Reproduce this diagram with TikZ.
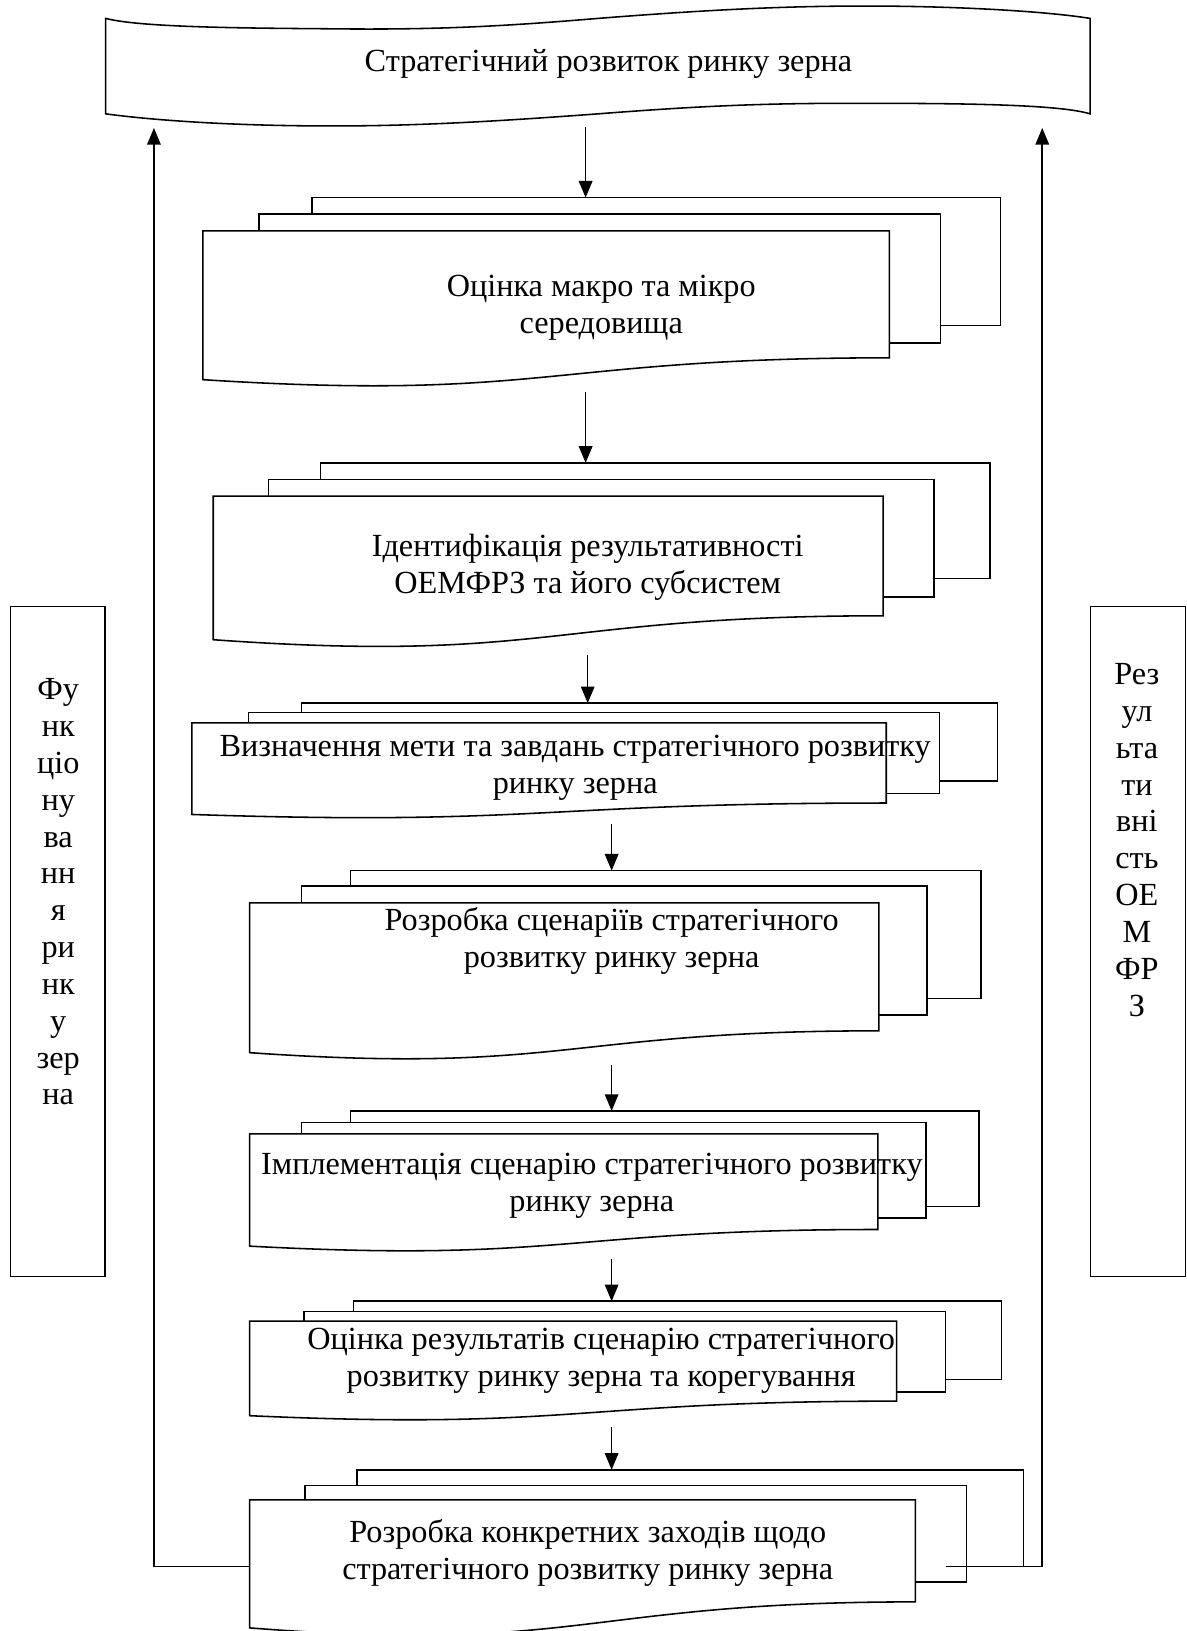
\documentclass[tikz,border=0pt]{standalone}
\usepackage{fontspec}
\setmainfont{Liberation Serif}
\usetikzlibrary{arrows.meta}
% layer (back or middle sheet): #1 left x, #2 top y, #3 right x, #4 bottom y, #5 y where left edge ends, #6 x where bottom edge ends
\newcommand{\layershape}[6]{\draw[shapeline] (#1,#5) -- (#1,#2) -- (#3,#2) -- (#3,#4) -- (#6,#4);}
% front sheet: #1 left, #2 top, #3 right, #4 right-bottom y, #5 left-bottom y
\newcommand{\frontshape}[5]{\draw[shapeline,fill=white] (#1,#2) -- (#3,#2) -- (#3,#4) .. controls ({(#1+#3)/2},#4) and ({(#1+#3)/2},{2*#5-#4}) .. (#1,#5) -- cycle;}
\begin{document}
\begin{tikzpicture}[x=1pt,y=-1pt,
  shapeline/.style={line width=1.5pt,line join=miter},
  arr/.style={line width=1.5pt,-{Triangle[length=16pt,width=13pt]}},
  txt/.style={font=\fontsize{31}{35.4}\selectfont,align=center,inner sep=0pt},
  sidebox/.style={draw,line width=1.5pt,minimum width=91pt,minimum height=644pt,inner sep=0pt}]
\fill[white] (0,0) rectangle (1141,1568);
\useasboundingbox (0,0) rectangle (1141,1568);

% top banner (punched tape)
\begin{scope}[shift={(101.6,5.8)},xscale=9.464,yscale=1.153]
\draw[shapeline,fill=white] (0,10.32)
  .. controls (3.80,18.47) and (15.79,18.43) .. (24.86,19.13)
  .. controls (34.58,19.63) and (41.25,16.34) .. (50,10.32)
  .. controls (60.09,3.84) and (68.15,0) .. (77.15,0)
  .. controls (86.81,0) and (95.78,4.68) .. (100,10.32)
  -- (100,89.91)
  .. controls (96.53,81.06) and (84.31,81.11) .. (75.28,81.11)
  .. controls (65.56,81.11) and (58.75,84.35) .. (50,89.91)
  .. controls (40.07,95.93) and (31.88,100) .. (23.06,100)
  .. controls (13.19,100) and (5.14,95.56) .. (0,89.91) -- cycle;
\end{scope}
\node[txt,anchor=base] (banner) at (585,69) {Стратегічний розвиток ринку зерна};

% side boxes
\node[sidebox] (leftbox) at (55.5,905) {};
\node[sidebox] (rightbox) at (1094,905) {};
\node[txt] (lefttext) at (56,857.5) {Фу\\нк\\ціо\\ну\\ва\\нн\\я\\ри\\нк\\у\\зер\\на};
\node[txt] (righttext) at (1093,807.5) {Рез\\ул\\ьта\\ти\\вні\\сть\\ОЕ\\М\\ФР\\З};

% document 1
\layershape{300}{190}{962}{313}{206}{904}
\layershape{249}{206}{904}{330}{222}{855}
\frontshape{195}{222}{855}{344}{365}
\node[txt] (d1) at (578,296) {Оцінка макро та мікро\\середовища};

% document 2
\layershape{308}{445}{952}{556}{461}{898}
\layershape{258}{461}{898}{574}{477}{849}
\frontshape{205}{477}{849}{592}{615}
\node[txt] (d2) at (565,545) {Ідентифікація результативності\\ОЕМФРЗ та його субсистем};

% document 3
\layershape{290}{676}{959}{751}{685}{903}
\layershape{239}{685}{903}{763}{695}{852}
\frontshape{184.5}{695}{852}{772}{783}
\node[txt] (d3) at (553,738) {Визначення мети та завдань стратегічного розвитку\\ринку зерна};

% document 4
\layershape{337}{837}{943}{960}{852}{891}
\layershape{290}{852}{891}{976}{868}{845}
\frontshape{240}{868}{845}{991}{1012}
\node[txt] (d4) at (588,904.5) {Розробка сценаріїв стратегічного\\розвитку ринку зерна};

% document 5
\layershape{337}{1068}{941}{1160}{1079}{890}
\layershape{290}{1079}{890}{1171}{1090}{844}
\frontshape{240}{1090}{844}{1182}{1198}
\node[txt] (d5) at (569,1140) {Імплементація сценарію стратегічного розвитку\\ринку зерна};

% document 6
\layershape{340}{1251}{963}{1326}{1261}{909}
\layershape{292}{1261}{909}{1338}{1270}{862}
\frontshape{240}{1270}{862}{1347}{1361}
\node[txt] (d6) at (578,1308.5) {Оцінка результатів сценарію стратегічного\\розвитку ринку зерна та корегування};

% document 7
\layershape{343}{1413}{984}{1506}{1428}{929}
\layershape{293}{1428}{929}{1521}{1442}{880}
\frontshape{240}{1442}{880}{1540}{1565}
\node[txt] (d7) at (565,1493) {Розробка конкретних заходів щодо\\стратегічного розвитку ринку зерна};

% connector points
\coordinate (b-out) at (563,122);
\coordinate (d1-in) at (563,190);
\coordinate (d1-out) at (563,377);
\coordinate (d2-in) at (563,445);
\coordinate (d2-out) at (565,630);
\coordinate (d3-in) at (565,676);
\coordinate (d3-out) at (588,792);
\coordinate (d4-in) at (588,837);
\coordinate (d4-out) at (588,1024);
\coordinate (d5-in) at (588,1068);
\coordinate (d5-out) at (588,1210);
\coordinate (d6-in) at (588,1251);
\coordinate (d6-out) at (588,1372);
\coordinate (d7-in) at (588,1413);
\coordinate (d7-left) at (240,1506);
\coordinate (d7-right) at (909,1506);
\coordinate (fb-left) at (148,123);
\coordinate (fb-right) at (1002,123);

\draw[arr] (b-out) -- (d1-in);
\draw[arr] (d1-out) -- (d2-in);
\draw[arr] (d2-out) -- (d3-in);
\draw[arr] (d3-out) -- (d4-in);
\draw[arr] (d4-out) -- (d5-in);
\draw[arr] (d5-out) -- (d6-in);
\draw[arr] (d6-out) -- (d7-in);
\draw[arr] (d7-left) -| (fb-left);
\draw[arr] (d7-right) -| (fb-right);
\end{tikzpicture}
\end{document}
